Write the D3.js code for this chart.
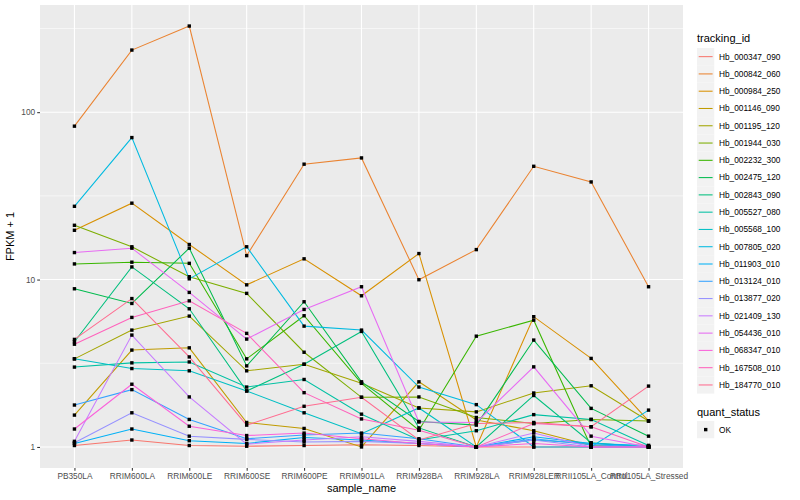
<!DOCTYPE html>
<html>
<head>
<meta charset="utf-8">
<title>FPKM by sample</title>
<script src="https://d3js.org/d3.v7.min.js"></script>
<style>
  body { margin: 0; background: #fff; }
  svg text { font-family: "Liberation Sans", Arial, sans-serif; }
</style>
</head>
<body>
<script>
// sample names along the x axis
var samples = ["PB350LA", "RRIM600LA", "RRIM600LE", "RRIM600SE", "RRIM600PE", "RRIM901LA",
               "RRIM928BA", "RRIM928LA", "RRIM928LER", "RRII105LA_Control", "RRII105LA_Stressed"];

var tracking_ids = ["Hb_000347_090", "Hb_000842_060", "Hb_000984_250", "Hb_001146_090", "Hb_001195_120",
                    "Hb_001944_030", "Hb_002232_300", "Hb_002475_120", "Hb_002843_090", "Hb_005527_080",
                    "Hb_005568_100", "Hb_007805_020", "Hb_011903_010", "Hb_013124_010", "Hb_013877_020",
                    "Hb_021409_130", "Hb_054436_010", "Hb_068347_010", "Hb_167508_010", "Hb_184770_010"];

// FPKM + 1, one row per tracking_id
var fpkm = [
  [1.02, 1.1, 1.02, 1.01, 1.02, 1.03, 1.02, 1.0, 1.0, 1.0, 1.0],
  [82.5, 235, 327, 13.9, 48.9, 53.3, 9.98, 15.1, 47.5, 38.3, 9.06],
  [19.7, 28.6, 16.2, 9.3, 13.3, 8.0, 14.3, 1.0, 6.0, 3.38, 1.43],
  [1.55, 3.79, 3.91, 1.4, 1.29, 1.0, 2.45, 1.45, 1.25, 1.02, 1.0],
  [3.36, 4.99, 6.05, 2.85, 3.12, 2.4, 1.71, 1.62, 2.1, 2.32, 1.43],
  [21.1, 15.7, 10.4, 8.27, 3.68, 1.98, 1.99, 1.5, 1.38, 1.46, 1.43],
  [12.4, 12.7, 12.5, 3.36, 6.08, 2.4, 1.26, 4.59, 5.72, 1.0, 1.0],
  [8.81, 7.2, 15.4, 3.05, 7.37, 2.45, 1.42, 1.35, 4.35, 1.7, 1.16],
  [4.25, 11.9, 6.69, 2.16, 3.12, 4.9, 1.3, 1.0, 2.03, 1.06, 1.0],
  [3.0, 3.18, 3.22, 2.28, 2.53, 1.57, 1.1, 1.25, 1.56, 1.46, 1.02],
  [3.36, 2.94, 2.85, 2.16, 1.6, 1.2, 1.71, 1.0, 1.1, 1.05, 1.0],
  [27.4, 70.5, 10.1, 15.7, 5.27, 4.99, 2.28, 1.79, 1.0, 1.0, 1.66],
  [1.05, 1.28, 1.09, 1.05, 1.14, 1.1, 1.05, 1.0, 1.15, 1.05, 1.02],
  [1.78, 2.2, 1.46, 1.12, 1.18, 1.21, 1.12, 1.0, 1.12, 1.03, 1.0],
  [1.06, 1.6, 1.16, 1.11, 1.07, 1.08, 1.05, 1.0, 1.1, 1.0, 1.0],
  [1.08, 4.66, 1.99, 1.04, 1.1, 1.15, 1.08, 1.0, 1.21, 1.0, 1.0],
  [14.5, 15.4, 8.38, 4.41, 6.63, 9.06, 1.41, 1.4, 3.01, 1.16, 1.0],
  [1.28, 2.37, 1.33, 1.17, 1.21, 1.12, 1.05, 1.0, 1.05, 1.0, 1.0],
  [4.11, 5.94, 7.46, 4.77, 2.11, 1.47, 1.26, 1.0, 1.38, 1.32, 1.0],
  [4.39, 7.7, 3.45, 1.35, 1.75, 1.98, 1.1, 1.38, 1.4, 1.32, 2.31]
];

var colors = ["#F8766D", "#EA8331", "#D89000", "#C09B00", "#A3A500", "#7CAE00", "#39B600", "#00BB4E",
              "#00BF7D", "#00C1A3", "#00BFC4", "#00BAE0", "#00B0F6", "#35A2FF", "#9590FF", "#C77CFF",
              "#E76BF3", "#FA62DB", "#FF62BC", "#FF6C90"];

var y_ticks = [1, 10, 100];
var y_minor = [Math.sqrt(10), Math.sqrt(1000), Math.sqrt(100000)];

var width = 800, height = 500;
var panel = {left: 40, right: 683, top: 5, bottom: 468};

var svg = d3.select("body").append("svg")
    .attr("width", width)
    .attr("height", height);

// ggplot-like scales: discrete x with 0.6 padding, log y with 5% expansion
var x = d3.scalePoint()
    .domain(samples)
    .range([panel.left, panel.right])
    .padding(0.6);

var all_vals = d3.merge(fpkm);
var lmin = Math.log10(d3.min(all_vals)), lmax = Math.log10(d3.max(all_vals));
var pad = (lmax - lmin) * 0.05;
var y = d3.scaleLog()
    .domain([Math.pow(10, lmin - pad), Math.pow(10, lmax + pad)])
    .range([panel.bottom, panel.top]);

svg.append("rect")
    .attr("x", panel.left).attr("y", panel.top)
    .attr("width", panel.right - panel.left)
    .attr("height", panel.bottom - panel.top)
    .attr("fill", "#EBEBEB");

// grid
svg.selectAll(".minor").data(y_minor).enter().append("line")
    .attr("x1", panel.left).attr("x2", panel.right)
    .attr("y1", function(d) { return y(d); }).attr("y2", function(d) { return y(d); })
    .attr("stroke", "#fff").attr("stroke-width", 0.55);
svg.selectAll(".major").data(y_ticks).enter().append("line")
    .attr("x1", panel.left).attr("x2", panel.right)
    .attr("y1", function(d) { return y(d); }).attr("y2", function(d) { return y(d); })
    .attr("stroke", "#fff").attr("stroke-width", 1.1);
svg.selectAll(".vgrid").data(samples).enter().append("line")
    .attr("x1", function(d) { return x(d); }).attr("x2", function(d) { return x(d); })
    .attr("y1", panel.top).attr("y2", panel.bottom)
    .attr("stroke", "#fff").attr("stroke-width", 1.1);

// lines
var line = d3.line()
    .x(function(d, i) { return x(samples[i]); })
    .y(function(d) { return y(d); });

svg.selectAll(".series").data(fpkm).enter().append("path")
    .attr("d", line)
    .attr("fill", "none")
    .attr("stroke", function(d, i) { return colors[i]; })
    .attr("stroke-width", 1.05);

// points
fpkm.forEach(function(row) {
    svg.append("g").selectAll("rect").data(row).enter().append("rect")
        .attr("x", function(d, i) { return x(samples[i]) - 1.7; })
        .attr("y", function(d) { return y(d) - 1.7; })
        .attr("width", 3.4).attr("height", 3.4)
        .attr("fill", "#000");
});

// axes
var xAxis = svg.append("g")
    .attr("transform", "translate(0," + panel.bottom + ")")
    .call(d3.axisBottom(x).tickSize(2.8).tickPadding(2));
var yAxis = svg.append("g")
    .attr("transform", "translate(" + panel.left + ",0)")
    .call(d3.axisLeft(y).tickValues(y_ticks).tickFormat(d3.format("d")).tickSize(2.8).tickPadding(2));
[xAxis, yAxis].forEach(function(a) {
    a.select(".domain").remove();
    a.selectAll(".tick line").attr("stroke", "#333").attr("stroke-width", 1.05);
    a.selectAll(".tick text").attr("fill", "#4D4D4D")
        .style("font-family", "'Liberation Sans', Arial, sans-serif")
        .style("font-size", "8.3px");
});

svg.append("text")
    .attr("x", (panel.left + panel.right) / 2).attr("y", 492)
    .attr("text-anchor", "middle")
    .style("font-size", "11px")
    .text("sample_name");
svg.append("text")
    .attr("transform", "translate(14," + (panel.top + panel.bottom) / 2 + ") rotate(-90)")
    .attr("text-anchor", "middle")
    .style("font-size", "11px")
    .text("FPKM + 1");

// legend
var lg = svg.append("g").attr("transform", "translate(697,0)");
lg.append("text").attr("x", 0).attr("y", 42).style("font-size", "11px").text("tracking_id");
var key = lg.selectAll(".key").data(tracking_ids).enter().append("g")
    .attr("transform", function(d, i) { return "translate(0," + (48 + i * 17.28) + ")"; });
key.append("rect").attr("width", 17.28).attr("height", 17.28).attr("fill", "#F2F2F2");
key.append("line").attr("x1", 1.7).attr("x2", 15.6).attr("y1", 8.64).attr("y2", 8.64)
    .attr("stroke", function(d, i) { return colors[i]; }).attr("stroke-width", 1.05);
key.append("text").attr("x", 22).attr("y", 8.64).attr("dy", "0.35em")
    .style("font-size", "8.3px").text(function(d) { return d; });

lg.append("text").attr("x", 0).attr("y", 416).style("font-size", "11px").text("quant_status");
var ok = lg.append("g").attr("transform", "translate(0,421)");
ok.append("rect").attr("width", 17.28).attr("height", 17.28).attr("fill", "#F2F2F2");
ok.append("rect").attr("x", 7).attr("y", 6.9).attr("width", 3.4).attr("height", 3.4).attr("fill", "#000");
ok.append("text").attr("x", 22).attr("y", 8.64).attr("dy", "0.35em")
    .style("font-size", "8.3px").text("OK");
</script>
</body>
</html>
